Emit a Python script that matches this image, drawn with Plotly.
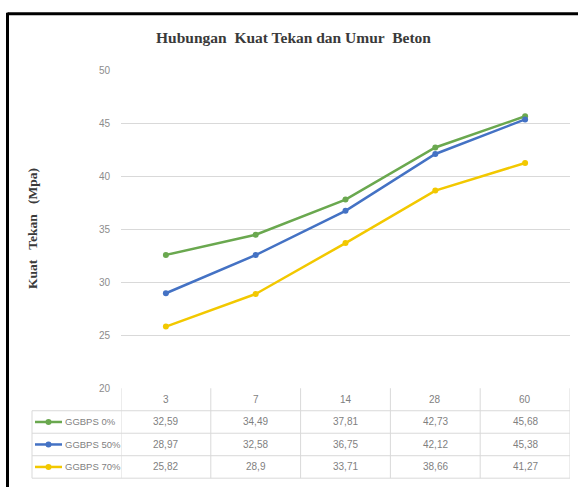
import plotly.graph_objects as go

# ---- data ----
categories = ["3", "7", "14", "28", "60"]
series_names = ["GGBPS 0%", "GGBPS 50%", "GGBPS 70%"]
ggbps_0 = [32.59, 34.49, 37.81, 42.73, 45.68]
ggbps_50 = [28.97, 32.58, 36.75, 42.12, 45.38]
ggbps_70 = [25.82, 28.90, 33.71, 38.66, 41.27]
series_values = [ggbps_0, ggbps_50, ggbps_70]
series_colors = ["#6AA84F", "#4472C4", "#F2C800"]
y_ticks = [20, 25, 30, 35, 40, 45, 50]

W, H = 578, 493


def px(p):
    return p / W


def py(p):
    return 1 - p / H


fig = go.Figure()
for name, vals, col in zip(series_names, series_values, series_colors):
    fig.add_trace(go.Scatter(
        x=categories, y=vals, mode="lines+markers", name=name,
        line=dict(color=col, width=2.5),
        marker=dict(color=col, size=6, symbol="circle"),
        showlegend=False, hoverinfo="x+y+name",
    ))

x0_plot, x1_plot = 121, 570
y_top, y_bot = 67, 392

shapes = []
annotations = []
FONT = "Liberation Sans Narrow, Liberation Sans, Arial"

# black frame (top and left)
shapes.append(dict(type="line", xref="paper", yref="paper", x0=px(7.5), x1=1.0,
                   y0=py(9), y1=py(9), line=dict(color="black", width=3)))
shapes.append(dict(type="line", xref="paper", yref="paper", x0=px(7.5), x1=px(7.5),
                   y0=py(8), y1=0, line=dict(color="black", width=3)))

# data table
row_h = 23
hdr_top = y_bot
row_tops = [hdr_top + row_h * (i + 1) for i in range(len(series_names))]
tbl_bottom = hdr_top + row_h * (len(series_names) + 1)
label_left = 32
grid_col = "#D9D9D9"
txt_col = "#7F7F7F"

for yy in row_tops + [tbl_bottom]:
    shapes.append(dict(type="line", xref="paper", yref="paper", x0=px(label_left), x1=px(x1_plot),
                       y0=py(yy), y1=py(yy), line=dict(color=grid_col, width=1), layer="below"))
for i in range(len(categories) + 1):
    shapes.append(dict(type="line", xref="x", yref="paper", x0=i - 0.5, x1=i - 0.5,
                       y0=py(hdr_top), y1=py(tbl_bottom), line=dict(color=grid_col, width=1), layer="below"))
shapes.append(dict(type="line", xref="paper", yref="paper", x0=px(label_left), x1=px(label_left),
                   y0=py(row_tops[0]), y1=py(tbl_bottom), line=dict(color=grid_col, width=1), layer="below"))

for i, c in enumerate(categories):
    annotations.append(dict(xref="x", yref="paper", x=i, y=py(hdr_top + row_h / 2),
                            xanchor="center", yanchor="middle",
                            text=c, showarrow=False, font=dict(size=10, color=txt_col, family=FONT)))
for r, (name, vals, col) in enumerate(zip(series_names, series_values, series_colors)):
    yc = row_tops[r] + row_h / 2
    shapes.append(dict(type="line", xref="paper", yref="paper", x0=px(35), x1=px(62),
                       y0=py(yc), y1=py(yc), line=dict(color=col, width=2.5)))
    shapes.append(dict(type="circle", xref="paper", yref="paper", x0=px(45.5), x1=px(51.5),
                       y0=py(yc + 3), y1=py(yc - 3), fillcolor=col, line=dict(color=col, width=0)))
    annotations.append(dict(xref="paper", yref="paper", x=px(63), y=py(yc), xanchor="left", yanchor="middle",
                            text=name, showarrow=False, font=dict(size=9.5, color=txt_col, family=FONT)))
    for i, v in enumerate(vals):
        s = f"{v:.2f}".rstrip("0").rstrip(".").replace(".", ",")
        annotations.append(dict(xref="x", yref="paper", x=i, y=py(yc), xanchor="center", yanchor="middle",
                                text=s, showarrow=False, font=dict(size=10, color=txt_col, family=FONT)))

annotations.append(dict(xref="paper", yref="paper", x=px(293), y=py(33), xanchor="center", yanchor="middle",
                        text="<b>Hubungan  Kuat Tekan dan Umur  Beton</b>",
                        showarrow=False, font=dict(size=15.5, color="#3A3A3A", family="Liberation Serif, Times New Roman")))
annotations.append(dict(xref="paper", yref="paper", x=px(33), y=py(229), xanchor="center", yanchor="middle",
                        text="<b>Kuat   Tekan   (Mpa)</b>", textangle=-90, showarrow=False,
                        font=dict(size=13.5, color="#3A3A3A", family="Liberation Serif, Times New Roman")))

fig.update_layout(
    width=W, height=H,
    margin=dict(l=0, r=0, t=0, b=0),
    paper_bgcolor="white", plot_bgcolor="white",
    shapes=shapes, annotations=annotations,
    xaxis=dict(type="category", domain=[px(x0_plot), px(x1_plot)], range=[-0.5, len(categories) - 0.5],
               showticklabels=False, showgrid=False, zeroline=False, showline=False, ticks=""),
    yaxis=dict(domain=[py(y_bot), py(y_top)], range=[20, 50], tickvals=y_ticks,
               showgrid=True, gridcolor=grid_col, gridwidth=1, zeroline=False, showline=False,
               ticks="", ticklabelstandoff=10,
               tickfont=dict(size=10, color="#8C8C8C", family=FONT)),
    hovermode="closest",
)

fig.write_html("out.html")
